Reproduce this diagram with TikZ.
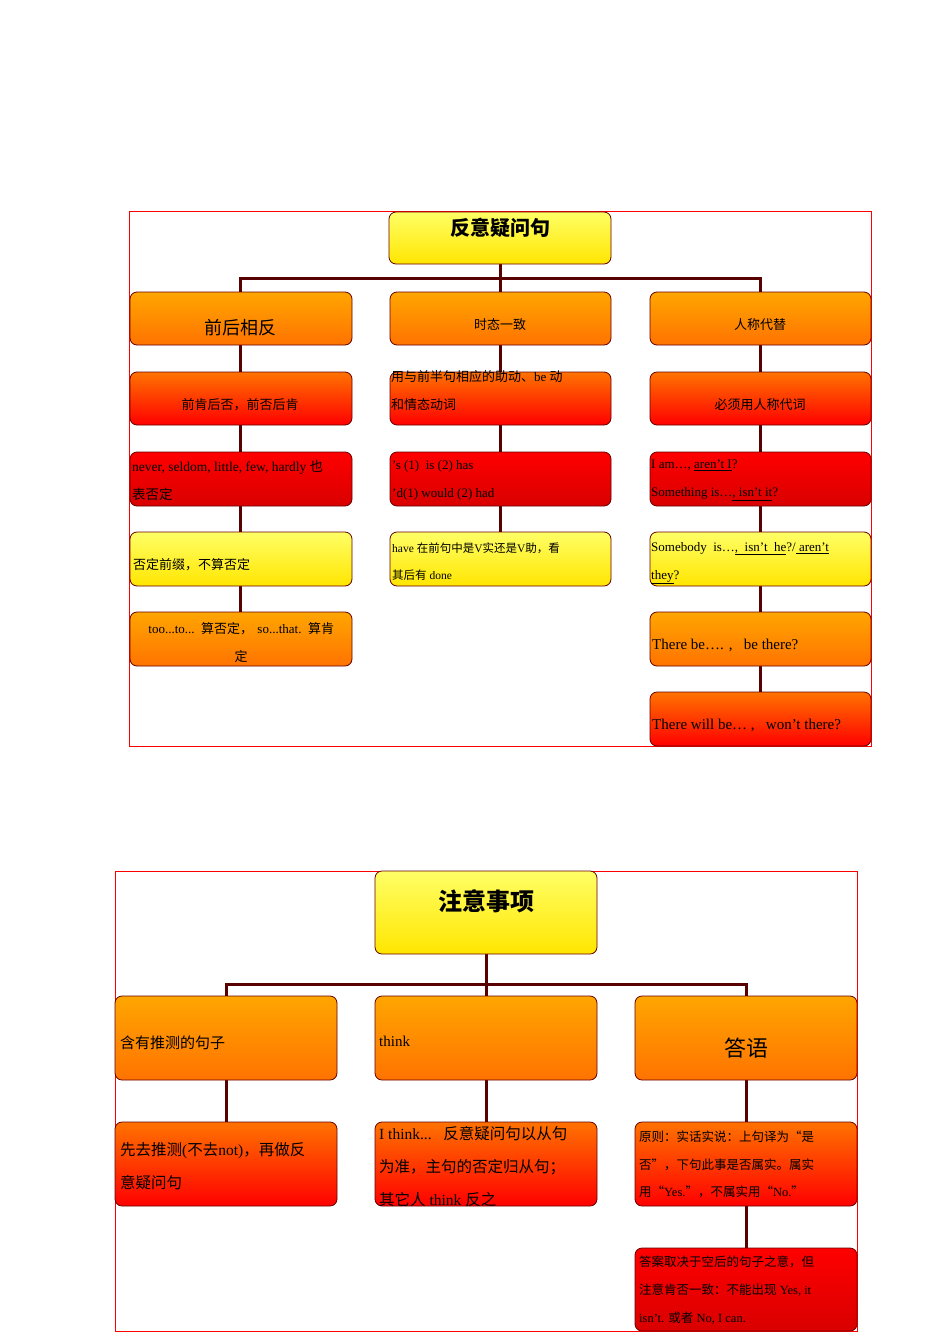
\documentclass[tikz,border=0pt]{standalone}
\usepackage{fontspec}
\setmainfont{Liberation Serif}
\newfontfamily\cjk{Noto Sans CJK SC}
\newcommand{\zh}[1]{{\cjk #1}}
\begin{document}
\begin{tikzpicture}[x=1pt,y=-1pt,
 bx/.style={draw=black!60!red,rounded corners=7pt,line width=0.8pt},
 yel/.style={bx,top color=yellow!60,bottom color=yellow!80!orange},
 ora/.style={bx,top color=orange!70!yellow,bottom color=orange!90!red},
 ror/.style={bx,top color=orange!90!red,bottom color=red},
 rd/.style={bx,top color=red,bottom color=red!85!black},
 ln/.style={draw=red!35!black,line width=3pt},
 fr/.style={draw=red,line width=0.6pt},
 tx/.style={anchor=north west,inner sep=0pt,align=left,font=\fontsize{13}{28}\selectfont}]
\useasboundingbox (0,0) rectangle (950,1344);
\fill[white] (0,0) rectangle (950,1344);
% ---------- diagram 1 -------------
\draw[fr] (129,211) rectangle (871,746);
\coordinate (b1) at (500,278);
\draw[ln] (500,264) -- (b1);
\draw[ln] (240,292) -- (240,278) -- (760,278) -- (760,292);
\draw[ln] (500,278) -- (500,292);
\foreach \y in {345,425,505,585}{\draw[ln] (240,\y) -- (240,\y+27);}
\foreach \y in {345,425,505}{\draw[ln] (500,\y) -- (500,\y+27);}
\foreach \y in {345,425,505,585,665}{\draw[ln] (760,\y) -- (760,\y+27);}
\path[yel] (389,212) rectangle (611,264) node[midway] (t1) {};
\node[font=\cjk\bfseries\fontsize{20}{24}\selectfont] at (500,228) {反意疑问句};
% row1
\path[ora] (130,292) rectangle (352,345) node[midway] (a1) {};
\node[font=\cjk\fontsize{18}{20}\selectfont] at (240,328) {前后相反};
\path[ora] (390,292) rectangle (611,345) node[midway] (b1n) {};
\node[font=\cjk\fontsize{13}{15}\selectfont] at (500,325) {时态一致};
\path[ora] (650,292) rectangle (871,345) node[midway] (c1) {};
\node[font=\cjk\fontsize{13}{15}\selectfont] at (760,325) {人称代替};
% row2
\path[ror] (130,372) rectangle (352,425) node[midway] (a2) {};
\node[font=\cjk\fontsize{13}{15}\selectfont] at (240,405) {前肯后否，前否后肯};
\path[ror] (390,372) rectangle (611,425) node[midway] (b2) {};
\node[tx] at (391,370) {\zh{用与前半句相应的助动、}be \zh{动}\\\zh{和情态动词}};
\path[ror] (650,372) rectangle (871,425) node[midway] (c2) {};
\node[font=\cjk\fontsize{13}{15}\selectfont] at (760,405) {必须用人称代词};
% row3
\path[rd] (130,452) rectangle (352,506) node[midway] (a3) {};
\node[tx,font=\fontsize{13.5}{28}\selectfont] at (132,460) {never, seldom, little, few, hardly \zh{也}\\\zh{表否定}};
\path[rd] (390,452) rectangle (611,506) node[midway] (b3) {};
\node[tx] at (392,460) {’s (1)\ \ is (2) has\\’d(1) would (2) had};
\path[rd] (650,452) rectangle (871,506) node[midway] (c3) {};
\node[tx] at (651,460) {I am…, \underline{aren’t I}?\\Something is…\underline{, isn’t it}?};
% row4
\path[yel] (130,532) rectangle (352,586) node[midway] (a4) {};
\node[tx,font=\cjk\fontsize{13}{15}\selectfont] at (133,558) {否定前缀，不算否定};
\path[yel] (390,532) rectangle (611,586) node[midway] (b4) {};
\node[tx,font=\fontsize{11.5}{27}\selectfont] at (392,543) {have \zh{在前句中是}V\zh{实还是}V\zh{助，看}\\\zh{其后有} done};
\path[yel] (650,532) rectangle (871,586) node[midway] (c4) {};
\node[tx] at (651,542) {Somebody\ \ is…\underline{,\ \ isn’t\ \ he}?/\underline{\ aren’t}\\\underline{they}?};
% row5
\path[ora] (130,612) rectangle (352,666) node[midway] (a5) {};
\node[tx,align=center,text width=220pt] at (131,622) {too...to... \zh{算否定，}\ so...that. \zh{算肯}\\\zh{定}};
\path[ora] (650,612) rectangle (871,666) node[midway] (c5) {};
\node[tx,font=\fontsize{15}{18}\selectfont] at (652,639) {There be…. ,\ \ \ be there?};
% row6
\path[ror] (650,692) rectangle (871,746) node[midway] (c6) {};
\node[tx,font=\fontsize{15}{18}\selectfont] at (652,719) {There will be… ,\ \ \ won’t there?};
% ---------- diagram 2 -------------
\draw[fr] (115,871) rectangle (857,1331);
\draw[ln] (486,954) -- (486,984);
\draw[ln] (226,996) -- (226,984) -- (746,984) -- (746,996);
\draw[ln] (486,984) -- (486,996);
\draw[ln] (226,1080) -- (226,1122);
\draw[ln] (486,1080) -- (486,1122);
\draw[ln] (746,1080) -- (746,1122);
\draw[ln] (746,1206) -- (746,1248);
\path[yel] (375,871) rectangle (597,954) node[midway] (t2) {};
\node[font=\cjk\bfseries\fontsize{24}{28}\selectfont] at (486,901) {注意事项};
\path[ora] (115,996) rectangle (337,1080) node[midway] (d1) {};
\node[tx,font=\cjk\fontsize{15}{18}\selectfont] at (120,1036) {含有推测的句子};
\path[ora] (375,996) rectangle (597,1080) node[midway] (e1) {};
\node[tx,font=\fontsize{15}{18}\selectfont] at (379,1036) {think};
\path[ora] (635,996) rectangle (857,1080) node[midway] (f1) {};
\node[font=\cjk\fontsize{22}{26}\selectfont] at (746,1048) {答语};
\path[ror] (115,1122) rectangle (337,1206) node[midway] (d2) {};
\node[tx,font=\fontsize{15.5}{33}\selectfont] at (120,1142) {\zh{先去推测}(\zh{不去}not)\zh{，再做反}\\\zh{意疑问句}};
\path[ror] (375,1122) rectangle (597,1206) node[midway] (e2) {};
\node[tx,font=\fontsize{15.5}{33}\selectfont] at (379,1126) {I think...\ \ \ \zh{反意疑问句以从句}\\\zh{为准，主句的否定归从句；}\\\zh{其它人} think \zh{反之}};
\path[ror] (635,1122) rectangle (857,1206) node[midway] (f2) {};
\node[tx,font=\fontsize{12.5}{27.5}\selectfont] at (639,1131) {\zh{原则：实话实说：上句译为“是}\\\zh{否”，下句此事是否属实。属实}\\\zh{用“}Yes.\zh{”，不属实用“}No.\zh{”}};
\path[rd] (635,1248) rectangle (857,1331) node[midway] (f3) {};
\node[tx,font=\fontsize{12.5}{28}\selectfont] at (639,1256) {\zh{答案取决于空后的句子之意，但}\\\zh{注意肯否一致：不能出现} Yes, it\\isn’t. \zh{或者} No, I can.};
\end{tikzpicture}
\end{document}
